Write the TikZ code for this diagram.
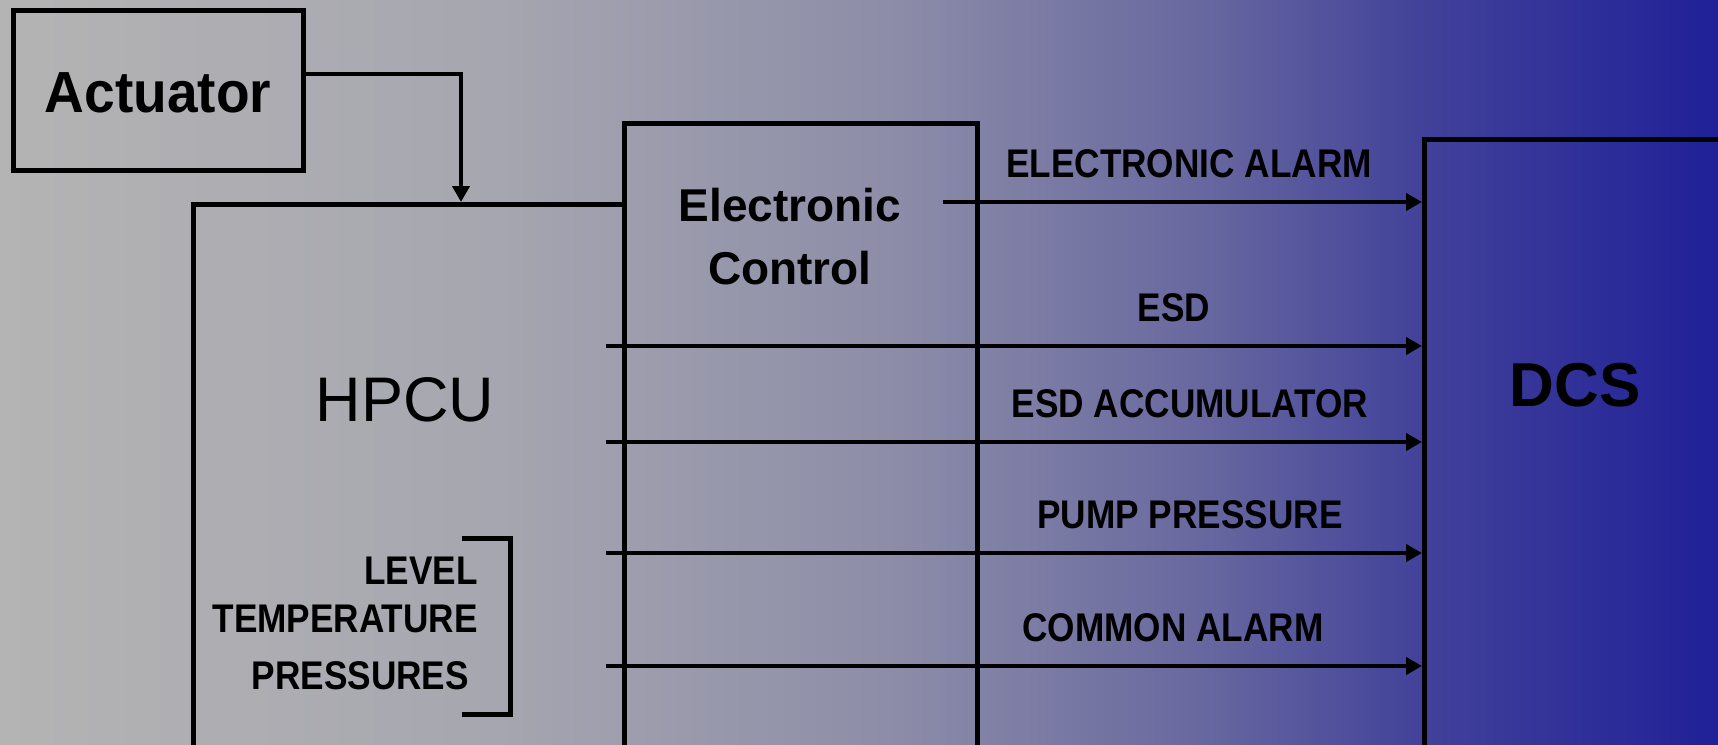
\documentclass[tikz,border=0pt]{standalone}
\usepackage{fontspec}
\setmainfont{Liberation Sans}
\newfontfamily\narrowfont[FakeStretch=0.88]{Liberation Sans}
\newfontfamily\semifont[FakeStretch=0.95]{Liberation Sans}
\usetikzlibrary{arrows.meta,positioning,calc}
\definecolor{bgA}{RGB}{180,180,180}
\definecolor{bgB}{RGB}{166,166,176}
\definecolor{bgC}{RGB}{140,140,168}
\definecolor{bgD}{RGB}{104,104,160}
\definecolor{bgE}{RGB}{66,66,154}
\definecolor{bgF}{RGB}{32,32,152}
\pgfdeclarehorizontalshading{panel}{100bp}{color(0bp)=(bgA); color(25bp)=(bgA); color(39.5bp)=(bgB); color(51.2bp)=(bgC); color(59.9bp)=(bgD); color(66.3bp)=(bgE); color(75bp)=(bgF); color(100bp)=(bgF)}

\begin{document}
\begin{tikzpicture}[
		x=1pt, y=-1pt,
		box/.style={draw, line width=5pt, inner sep=0pt},
		sig/.style={-{Triangle[length=16pt, width=17pt]}, line width=4.3pt},
		lbl/.style={font=\narrowfont\bfseries\fontsize{40}{48}\selectfont, anchor=south, inner sep=0pt, yshift=24pt}
	]
		\useasboundingbox (0,0) rectangle (1718,744);
		\shade[shading=panel] (0,0) rectangle (1718,744);

		\node[box, minimum width=290pt, minimum height=160pt]
			(actuator) at (158,90) {};
		\node[box, anchor=north west, minimum width=431pt, minimum height=580pt]
			(hpcu) at (191,202) {};
		\node[box, anchor=north west, minimum width=353pt, minimum height=660pt]
			(ec) at (622,121) {};
		\node[box, anchor=north west, minimum width=330pt, minimum height=640pt]
			(dcs) at (1422,137) {};

		\node[font=\semifont\bfseries\fontsize{58}{70}\selectfont] (acttext) at (158,93) {Actuator};
		\node[font=\fontsize{63}{70}\selectfont] (hpcutext) at (405,400) {HPCU};
		\node[font=\bfseries\fontsize{46}{63}\selectfont, align=center]
			(ectext) at (790,237)
			{Electronic\\Control};
		\node[font=\bfseries\fontsize{62}{70}\selectfont] (dcstext) at (1575,385) {DCS};

		\node[font=\narrowfont\bfseries\fontsize{40}{48}\selectfont, align=right, anchor=north east, inner sep=0pt]
			(sensors) at (478,557)
			{LEVEL\\TEMPERATURE\\[9pt]PRESSURES\hspace*{9pt}};
		\draw[line width=5pt] (462,538) -| (510,714) -- (462,714);

		\coordinate (actin) at (461,202);
		\coordinate (alarmout) at (943,202);
		\coordinate (esdout) at (606,346);
		\coordinate (accuout) at (606,442);
		\coordinate (pumpout) at (606,553);
		\coordinate (commonout) at (606,666);

		\draw[sig] ([yshift=16pt]actuator.east) -| (actin);
		\draw[sig] (alarmout) -- (alarmout -| dcs.west);
		\draw[sig] (esdout) -- (esdout -| dcs.west);
		\draw[sig] (accuout) -- (accuout -| dcs.west);
		\draw[sig] (pumpout) -- (pumpout -| dcs.west);
		\draw[sig] (commonout) -- (commonout -| dcs.west);

		\node[lbl] (lalarm) at (1189,202) {ELECTRONIC ALARM};
		\node[lbl] (lesd) at (1174,346) {ESD};
		\node[lbl] (laccu) at (1190,442) {ESD ACCUMULATOR};
		\node[lbl] (lpump) at (1190,553) {PUMP PRESSURE};
		\node[lbl] (lcommon) at (1173,666) {COMMON ALARM};
	\end{tikzpicture}
\end{document}
